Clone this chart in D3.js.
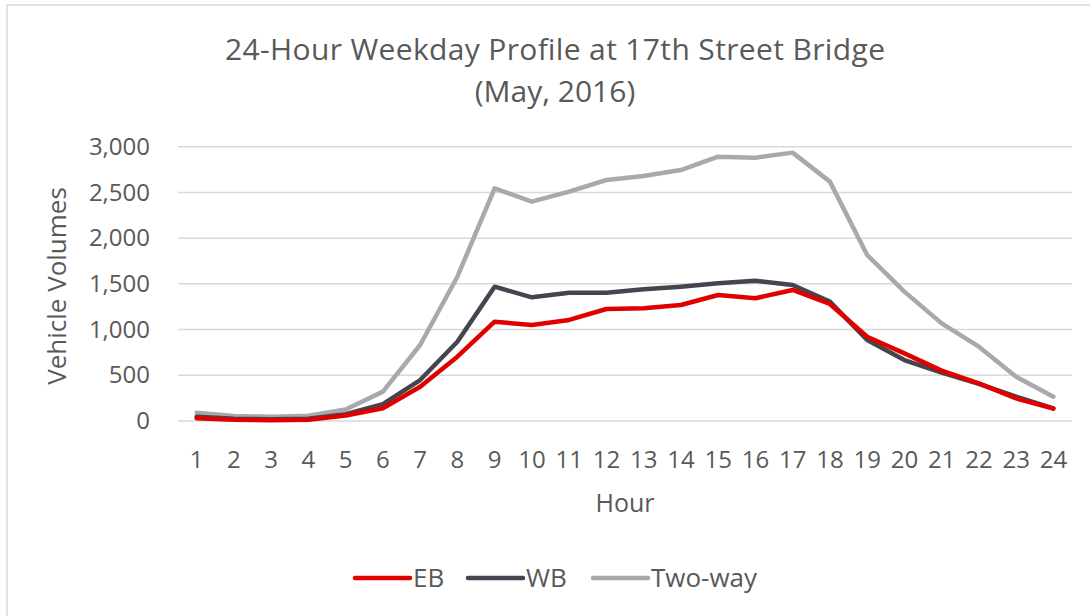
<!DOCTYPE html>
<html>
<head>
<meta charset="utf-8">
<script src="https://cdn.jsdelivr.net/npm/d3@7"></script>
<style>
  body { margin: 0; background: #fff; }
  svg { display: block; font-family: "Open Sans", sans-serif; }
</style>
</head>
<body>
<svg width="1090" height="616"></svg>
<script>
var hours = d3.range(1, 25).map(String);
var eb = [30, 14, 8, 14, 60, 140, 375, 703, 1086, 1050, 1105, 1225, 1232, 1269, 1378, 1342, 1433, 1280, 922, 740, 551, 412, 248, 135];
var wb = [47, 25, 19, 25, 75, 185, 448, 867, 1469, 1353, 1403, 1403, 1440, 1469, 1506, 1535, 1487, 1305, 886, 667, 529, 405, 266, 139];
var twoWay = [91, 55, 47, 58, 125, 321, 831, 1578, 2545, 2399, 2508, 2636, 2680, 2745, 2891, 2880, 2935, 2618, 1816, 1415, 1068, 813, 485, 266];
var yTicks = [0, 500, 1000, 1500, 2000, 2500, 3000];

var series = [
  {name: "EB", values: eb, color: "#e00000"},
  {name: "WB", values: wb, color: "#45444f"},
  {name: "Two-way", values: twoWay, color: "#a8a9ad"}
];

var svg = d3.select("svg"),
    textColor = "#595959";

// outer chart border (only top and left edges fall inside the picture)
svg.append("rect")
    .attr("x", 7).attr("y", 5)
    .attr("width", 1200).attr("height", 700)
    .attr("fill", "none")
    .attr("stroke", "#d9d9d9")
    .attr("stroke-width", 1.5);

var x = d3.scaleBand()
    .domain(hours)
    .range([178, 1072]);

var y = d3.scaleLinear()
    .domain([0, 3000])
    .range([421, 146.7]);

// gridlines
svg.append("g")
  .selectAll("line")
  .data(yTicks)
  .enter().append("line")
    .attr("x1", 178).attr("x2", 1072)
    .attr("y1", function(d) { return y(d); })
    .attr("y2", function(d) { return y(d); })
    .attr("stroke", "#d9d9d9")
    .attr("stroke-width", 1.5);

// y axis
var yAxis = svg.append("g")
    .attr("transform", "translate(150,0)")
    .call(d3.axisLeft(y).tickValues(yTicks).tickFormat(d3.format(",d")).tickSize(0).tickPadding(0));
yAxis.select(".domain").remove();
yAxis.selectAll("text")
    .attr("fill", textColor)
    .style("font-size", "24px")
    .style("font-family", "Open Sans");

// x axis
var xAxis = svg.append("g")
    .attr("transform", "translate(0,421)")
    .call(d3.axisBottom(x).tickSize(0).tickPadding(30));
xAxis.select(".domain").remove();
xAxis.selectAll("text")
    .attr("fill", textColor)
    .style("font-size", "24px")
    .style("font-family", "Open Sans");

// lines
var line = d3.line()
    .x(function(d, i) { return x(hours[i]) + x.bandwidth() / 2; })
    .y(function(d) { return y(d); });

svg.append("g")
  .selectAll("path")
  .data(series.slice().reverse())
  .enter().append("path")
    .attr("d", function(d) { return line(d.values); })
    .attr("fill", "none")
    .attr("stroke", function(d) { return d.color; })
    .attr("stroke-width", 4.5)
    .attr("stroke-linejoin", "round")
    .attr("stroke-linecap", "round");

// titles
var title = svg.append("text")
    .attr("text-anchor", "middle")
    .attr("fill", textColor)
    .style("font-size", "30px");
title.append("tspan").attr("x", 555).attr("y", 60)
    .attr("textLength", 660)
    .text("24-Hour Weekday Profile at 17th Street Bridge");
title.append("tspan").attr("x", 555).attr("y", 102).text("(May, 2016)");

svg.append("text")
    .attr("transform", "translate(66,286) rotate(-90)")
    .attr("text-anchor", "middle")
    .attr("fill", textColor)
    .style("font-size", "26px")
    .text("Vehicle Volumes");

svg.append("text")
    .attr("x", 625).attr("y", 511.5)
    .attr("text-anchor", "middle")
    .attr("fill", textColor)
    .style("font-size", "25px")
    .text("Hour");

// legend
var legendX = [355, 468, 593];
var legend = svg.append("g")
  .selectAll("g")
  .data(series)
  .enter().append("g")
    .attr("transform", function(d, i) { return "translate(" + legendX[i] + ",578)"; });

legend.append("line")
    .attr("x1", 0).attr("x2", 55)
    .attr("stroke", function(d) { return d.color; })
    .attr("stroke-width", 4.5)
    .attr("stroke-linecap", "round");

legend.append("text")
    .attr("x", 58).attr("y", 9)
    .attr("fill", textColor)
    .style("font-size", "26px")
    .text(function(d) { return d.name; });
</script>
</body>
</html>
